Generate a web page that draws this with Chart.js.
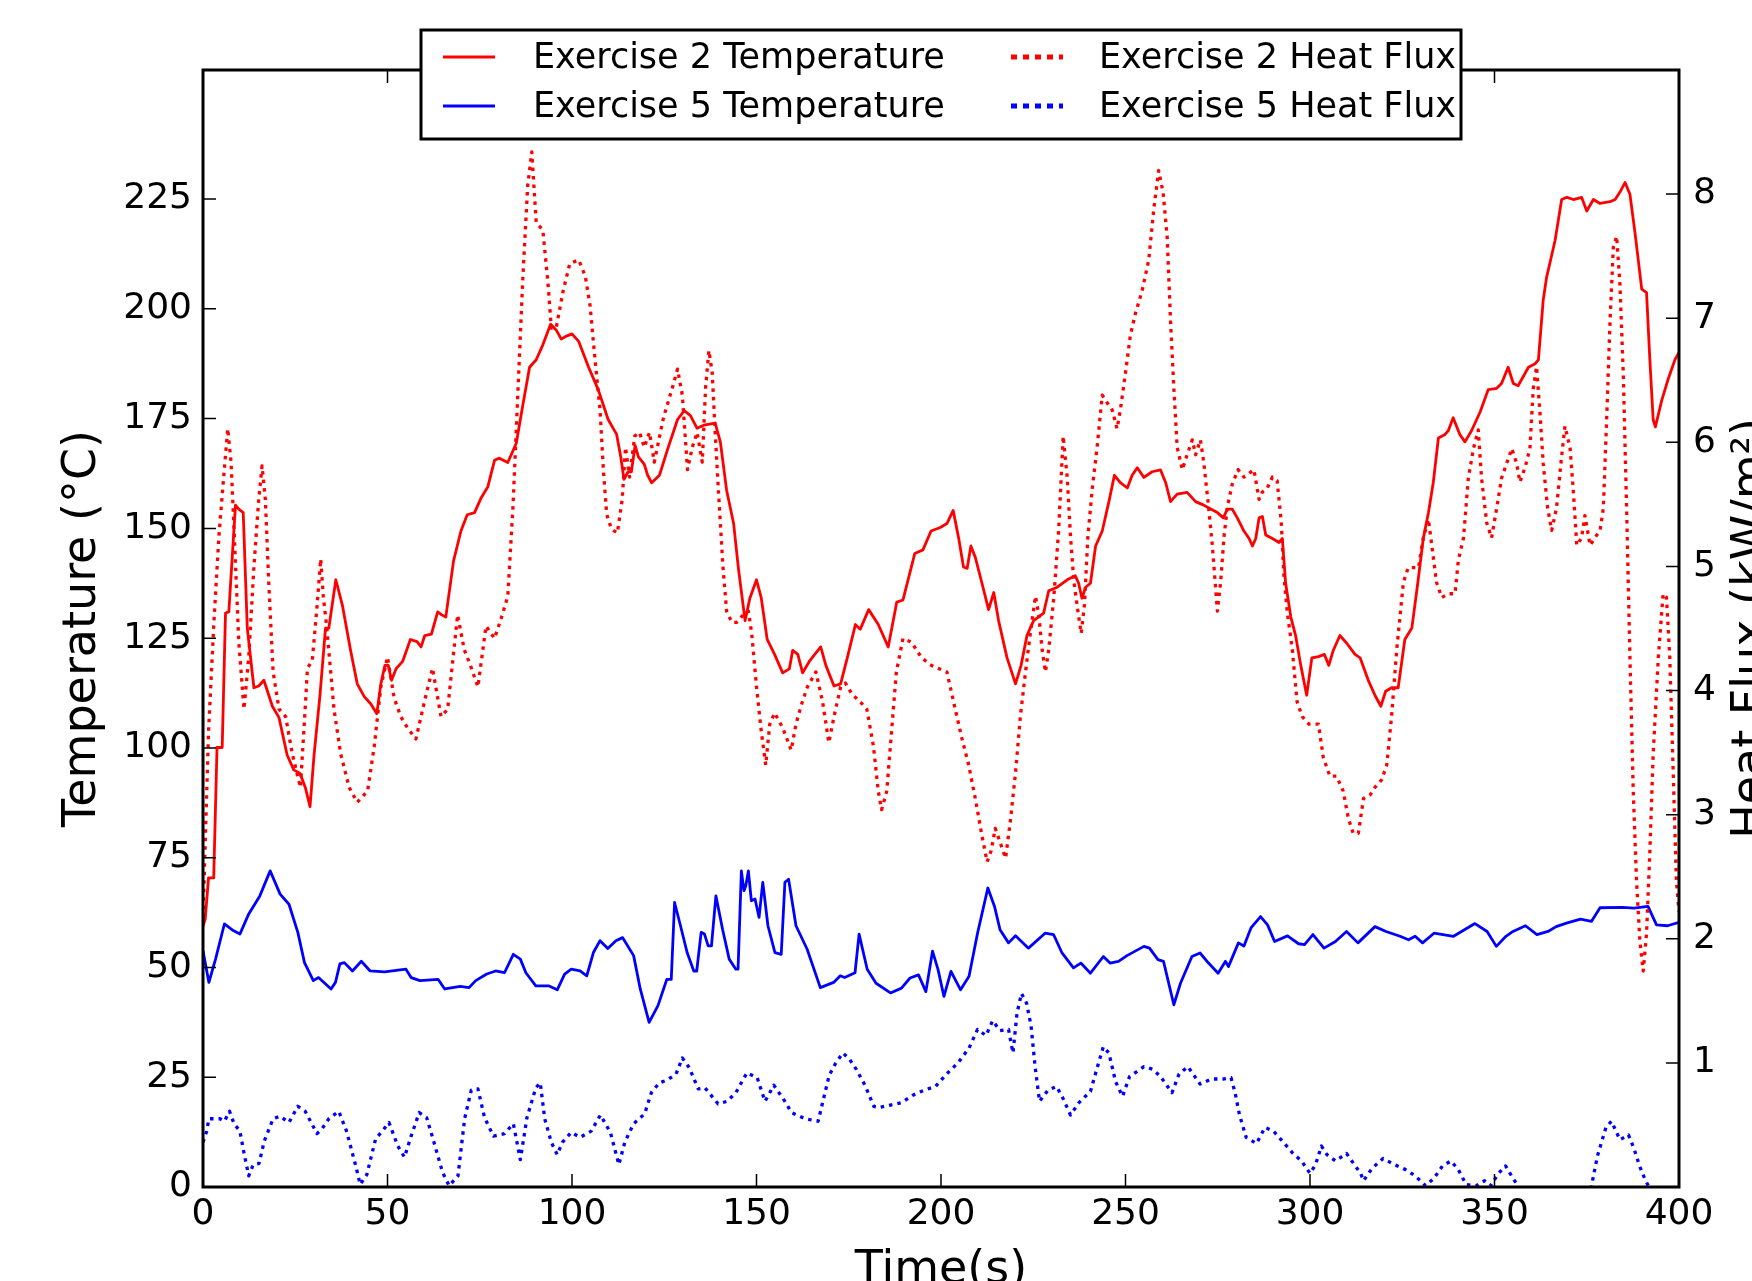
<!DOCTYPE html>
<html>
<head>
<meta charset="utf-8">
<script src="https://cdn.jsdelivr.net/npm/chart.js@4.4.1/dist/chart.umd.min.js"></script>
<style>
html,body{margin:0;padding:0;background:#fff;overflow:hidden}
canvas{display:block}
</style>
</head>
<body>
<canvas id="c" width="1752" height="1281"></canvas>
<script>
// ---------------- tick values ----------------
const timeTicks = [0, 50, 100, 150, 200, 250, 300, 350, 400];
const tempTicks = [0, 25, 50, 75, 100, 125, 150, 175, 200, 225];
const fluxTicks = [1, 2, 3, 4, 5, 6, 7, 8];

// ---------------- series labels ----------------
const seriesLabels = ['Exercise 2 Temperature', 'Exercise 5 Temperature', 'Exercise 2 Heat Flux', 'Exercise 5 Heat Flux'];

// ---------------- series: [time (s), value] ----------------
// Exercise 2 temperature (°C)
const ex2Temp = [[0,59.4],[0.6,61],[1.5,70.4],[2.9,70.4],[3.8,100.1],[5.2,100.1],[6.1,130.7],[7,131],[8.8,155.3],[9.7,154.4],
[10.9,153.6],[12,127.3],[13.8,113.7],[15.1,114.1],[16.5,115.4],[18.8,109.5],[20.6,106.9],[22.8,98.4],[24.6,95],[26.3,94.2],
[27.8,90.8],[29,86.6],[30.1,98.4],[31.7,112],[33.2,127.3],[34.1,127.3],[36,138.3],[37.8,132.4],[40,122.2],[41.8,114.6],
[43.7,111.7],[45.5,110],[47.1,107.8],[48.2,114.6],[49.3,118.8],[50.2,118.8],[51.1,115.4],[52.3,118],[54.1,119.7],[56.2,124.7],
[58,124.2],[59.1,123],[60.1,125.6],[61.9,125.9],[63.6,131],[64.7,130.3],[65.8,129.8],[67.9,142.6],[69.9,149.4],[71.6,153.1],
[73.6,153.6],[75.4,157],[77.2,159.5],[79,165.5],[80.3,166],[82.6,165],[84.9,169.4],[86.7,178.2],[88.5,186.7],[90.3,188.4],
[92.1,191.8],[94.2,196.5],[95.7,195.2],[97.1,193.1],[98.5,193.8],[100,194.3],[101.8,192.6],[104.5,186.7],[107.1,181.6],[109.8,174.8],
[112.1,171.4],[113.2,166.3],[114.1,161.2],[115.2,162.9],[116.1,162.9],[117.1,168.9],[118,166.3],[119.6,164.6],[120.5,162.1],[121.6,160.4],
[123.7,162.1],[125.9,168],[128.6,174.8],[130.4,176.8],[132.1,175.7],[133.9,172.8],[135.7,173.5],[138.8,174],[140.2,169.7],[141.9,158.7],
[143.8,151.1],[145.1,140.9],[146.9,129],[148.2,134.1],[150,138.3],[151.3,134.1],[152.9,124.7],[154.9,121.3],[157.1,117.1],[158.9,118],
[159.8,122.2],[161.2,121.3],[162.5,117.1],[164.3,119.7],[167.4,123],[168.8,118.8],[171,114.1],[172.8,114.6],[174.6,120.5],[176.8,128.1],
[178.1,127],[180.4,131.5],[183,128.1],[185.7,123],[188,133.2],[189.7,133.7],[192.9,144.3],[195.1,145.1],[197.3,149.4],[199.8,150.2],
[201.6,151.1],[203.3,154.1],[204.8,147.7],[206.1,141.2],[207.1,140.9],[208.1,146],[209.3,143.4],[211.1,137.5],[212.9,131.5],[214.3,135.4],
[215.6,129],[217.9,120.5],[220.2,114.6],[221.7,118.8],[223.3,125.6],[225.1,129],[227.8,130.7],[229.2,135.8],[231.5,136.6],[234.2,138.3],
[236.4,139.2],[237.3,137.5],[238.2,134.1],[239.2,136.6],[240.5,137.5],[241.9,146],[243.7,149.4],[245.5,156.1],[247,162.1],[248.6,160.4],
[250.5,159.2],[251.8,162.1],[253.2,163.8],[255,161.6],[257.2,162.9],[259.5,163.3],[260.9,160.4],[262.2,156.1],[264,157.8],[266.7,158.2],
[269,156.1],[271.2,155.3],[273.1,154.4],[274.9,153.6],[276.5,152.4],[277.6,154.4],[278.9,154.4],[280.3,152.4],[282.1,149.4],[283.5,147.7],
[284.4,146],[285.3,147.7],[286.2,152.4],[287.1,152.7],[288,148.5],[289.8,147.7],[291.6,146.8],[292.5,147.7],[293.4,137.5],[294.8,129.8],
[296.1,125.6],[297.5,118.8],[299.1,112],[300.5,120.5],[302.3,120.8],[303.9,121.3],[305.1,118.8],[306.3,122.2],[308.1,125.6],[309.9,123.9],
[312.2,121.3],[313.6,120.5],[315.8,115.4],[317.6,112],[319.2,109.5],[320.5,112.9],[322.1,113.7],[323.9,113.7],[325.7,124.7],[327.6,127.3],
[329.2,137.5],[330.7,147.7],[332.1,153.6],[333.4,160.4],[334.8,170.6],[336.6,171.4],[337.5,172.3],[338.8,175.2],[340.6,171.4],[342,169.7],
[343.8,172.3],[346.1,176.5],[348.3,181.6],[350.6,181.9],[351.9,183],[353.7,186.7],[355.1,183],[356.4,182.5],[359.2,186.7],[361,187.5],
[361.9,188.4],[363.2,202],[364.1,207.1],[366.4,215.5],[368.2,224.9],[369.6,225.4],[371.4,224.9],[373.6,225.4],[375,222.3],[376.8,224.9],
[378.6,224],[381.3,224.4],[382.7,224.9],[384,226.6],[385.4,228.8],[386.7,226.1],[388.1,217.2],[389.9,204.5],[391.2,203.7],[392.1,188.4],
[393,174.8],[393.6,173.1],[395.3,179.1],[397.1,184.1],[398.9,188.4],[400,190.1]];

// Exercise 5 temperature (°C)
const ex5Temp = [[0,53.8],[1.6,46.6],[3.4,51.9],[5.8,59.9],[8.2,58.4],[10,57.6],[12.4,62.2],[15.4,66.3],[18.2,72],[20.9,66.7],
[23.3,64.4],[25.7,58],[27.5,51.1],[29.9,47],[31.3,47.7],[34.7,45.1],[35.9,46.6],[37.1,50.8],[38.3,51.1],[40.5,49.2],
[42.9,51.4],[45.3,49.2],[49.2,49],[55,49.6],[56.4,47.7],[58.8,47],[63.7,47.3],[65.5,45.1],[69.7,45.7],[72.1,45.4],
[73.9,47],[76.9,48.5],[79.3,49.2],[81.7,48.8],[84.1,53],[86,51.9],[87.5,48.8],[90.2,45.8],[93.8,45.8],[96,44.9],
[98,48.5],[99.8,49.6],[102.2,49.2],[104,48.1],[105.8,53.4],[107.6,56.1],[109.7,54.3],[111.9,56.1],[113.7,56.8],[116.7,52.7],
[118.5,45.1],[120.9,37.5],[123.3,41.3],[125.7,47.3],[126.9,47.3],[127.8,64.8],[129.4,59.5],[131.2,53.4],[133,49.2],[133.8,49.2],
[135,58],[135.9,57.6],[136.9,54.9],[137.8,54.9],[139,66.3],[140.8,58.7],[142.6,51.9],[144.4,49.6],[145,49.6],[145.9,72],
[146.6,67.5],[147.1,68.6],[147.8,72],[148.6,65.2],[149.6,65.6],[150.7,61.4],[151.7,69.4],[153.1,59.5],[155,53.4],[156.7,53],
[157.7,69.4],[158.7,70.1],[160.7,59.5],[163.7,54.2],[167.3,45.4],[170.9,46.6],[172.7,48.1],[173.9,47.7],[176.7,48.8],[177.8,57.6],
[180,49.6],[182.4,46.4],[186.3,44.2],[189.3,45.3],[191.6,47.6],[193.9,48.3],[195.9,44.5],[197.7,53.7],[199.2,49.5],[200.8,43.4],
[202.7,49.1],[205.3,44.9],[207.6,48],[209.9,57.8],[212.7,68.1],[214.5,63.9],[216,58.6],[218.3,55.6],[220.2,57.2],[223.7,54.4],
[228.2,57.8],[230.5,57.5],[232.8,53.3],[235.9,49.9],[237.9,51],[240.5,48.7],[244,52.5],[245.8,51],[248.1,51.4],[250.4,52.7],
[255,54.8],[256.5,54.4],[258.8,51.8],[260.3,51.4],[263.1,41.5],[264.9,46.4],[268,52.5],[270.2,53.3],[272.5,51],[275.1,48.7],
[277.1,51.4],[277.9,50.2],[280.6,55.6],[282.1,54.9],[284,59],[286.6,61.6],[288.5,59.7],[290.4,55.9],[293.9,57.2],[296.9,55.4],
[298.5,55.2],[300.8,57.5],[303.8,54.4],[306.9,55.9],[309.9,58.2],[313,55.6],[317.6,59.3],[320.6,58.2],[324.4,57.1],[326.7,56.3],
[328.5,57.1],[330.5,55.6],[333.6,57.8],[338.9,57.1],[344.7,60],[348,58.2],[350.5,54.8],[353.1,57.1],[355,58.2],[358.4,59.5],
[361.5,57.5],[364.5,58.2],[366.7,59.3],[369.5,60.1],[373.3,61],[376.3,60.5],[378.6,63.6],[384.7,63.7],[387.8,63.5],[391.6,63.9],
[393.9,59.7],[396.9,59.5],[400,60.3]];

// Exercise 2 heat flux (kW/m²)
const ex2Flux = [[0,2.17],[0.6,2.77],[1.5,3.67],[2.9,4.52],[4.3,5.24],[5.6,5.72],[6.7,6.11],[7.6,5.84],[8.5,5.24],[9.7,4.39],
[11.1,3.85],[12.4,4.27],[13.8,5.0],[15.1,5.54],[16,5.81],[16.9,5.54],[17.8,4.88],[19,4.15],[20.6,3.85],[22.4,3.79],
[24.2,3.49],[26.4,3.22],[27.8,3.91],[28.3,4.18],[29.6,4.24],[30.8,4.64],[31.9,5.06],[32.6,4.76],[33.5,4.52],[34.6,4.15],
[35.5,3.85],[37.3,3.49],[39.6,3.22],[41.8,3.1],[44.6,3.19],[46.4,3.55],[48.2,4.03],[50,4.27],[51.8,3.94],[53.6,3.79],
[55.4,3.7],[57.7,3.61],[60,3.91],[62.2,4.18],[64.5,3.79],[66.3,3.85],[69,4.61],[70.8,4.33],[72.5,4.2],[74.5,4.03],
[76.7,4.52],[79,4.42],[80.8,4.58],[82.6,4.76],[84,5.48],[85.3,6.38],[86.7,7.34],[88,8.07],[89.1,8.34],[90.3,7.77],
[92.1,7.71],[93.5,7.28],[94.4,6.92],[95.7,6.92],[97.6,7.22],[99.4,7.44],[101.8,7.47],[103.6,7.34],[104.9,7.1],[106.2,6.68],
[107.6,6.26],[108.5,5.78],[109.4,5.42],[110.7,5.3],[112.3,5.27],[113.6,5.54],[114.5,5.96],[115.6,5.72],[117,6.05],[118.3,6.08],
[119.6,5.96],[121,6.08],[122.3,5.84],[124.8,6.2],[127.2,6.44],[128.6,6.59],[129.9,6.38],[131.3,5.78],[132.6,5.96],[133.9,6.08],
[135.3,5.84],[136.2,6.44],[137.1,6.74],[138,6.56],[138.8,6.08],[139.7,5.6],[140.9,5.0],[141.9,4.64],[143.3,4.55],[144.6,4.55],
[146.4,4.61],[147.8,4.64],[148.7,4.46],[150,4.03],[151.3,3.67],[152.5,3.4],[153.6,3.73],[154.9,3.82],[157.1,3.7],[159.4,3.52],
[160.7,3.73],[162.1,3.88],[163.8,4.03],[166.1,4.15],[167.9,3.91],[169.6,3.58],[171,3.79],[172.8,4.03],[174.1,4.06],[175.9,3.97],
[178.1,3.91],[179.9,3.85],[181.7,3.55],[183,3.19],[183.9,3.04],[185.3,3.19],[186.6,3.67],[187.9,4.15],[189.7,4.42],[192,4.39],
[194.6,4.27],[196.9,4.21],[199.1,4.18],[201.6,4.15],[203.4,3.91],[205.7,3.61],[207.5,3.4],[209.3,3.13],[211.1,2.83],[212.5,2.62],
[213.6,2.71],[214.7,2.89],[216.1,2.77],[217.5,2.65],[218.8,2.95],[220.2,3.34],[221.5,3.79],[222.9,4.15],[224.2,4.46],[225.6,4.76],
[226.5,4.61],[227.4,4.33],[228.3,4.15],[229.2,4.33],[230.6,4.76],[231.9,5.3],[233.1,6.05],[234.2,5.72],[235.1,5.24],[236,4.88],
[237.1,4.64],[238,4.46],[238.9,4.7],[239.8,5.24],[241,5.63],[242.3,5.96],[243.7,6.38],[245,6.32],[246.4,6.26],[247.7,6.11],
[248.6,6.26],[250,6.56],[251.3,6.86],[252.7,7.04],[254.5,7.22],[256.3,7.47],[257.7,7.89],[259,8.19],[260.2,8.01],[261.3,7.65],
[262.2,6.98],[263.1,6.44],[264,5.96],[265.4,5.78],[266.7,5.9],[268.1,6.02],[269,5.9],[270.3,6.02],[271.2,5.84],[272.3,5.54],
[273.5,5.18],[274.9,4.64],[275.8,4.88],[276.7,5.24],[277.6,5.48],[278.9,5.66],[280.5,5.78],[282.1,5.72],[283.5,5.75],[284.8,5.78],
[286.2,5.54],[287.1,5.6],[288.4,5.63],[289.8,5.72],[291.1,5.69],[292.2,5.36],[292.9,4.94],[293.8,4.64],[295.2,4.33],[296.5,3.91],
[297.9,3.79],[299.7,3.73],[302.3,3.73],[303.6,3.46],[305.4,3.31],[307.2,3.31],[309,3.19],[310.4,2.97],[311.7,2.85],[313.1,2.85],
[314.5,3.13],[316.3,3.16],[317.6,3.22],[319.4,3.28],[320.8,3.4],[322.1,3.79],[323.5,4.33],[325.3,4.87],[326.6,4.99],[328,4.99],
[329.4,4.99],[330.7,5.23],[332.1,5.38],[333,5.17],[334.3,4.87],[335.7,4.75],[337.5,4.78],[339.3,4.78],[340.2,5.05],[341.6,5.23],
[342.9,5.71],[344.3,5.95],[345.6,6.1],[346.5,5.71],[347.9,5.35],[349.2,5.23],[350.6,5.47],[351.9,5.71],[353.3,5.83],[354.7,5.95],
[356,5.83],[356.9,5.68],[358.3,5.8],[359.6,5.95],[360.5,6.43],[361.4,6.61],[362.3,6.25],[363.2,5.83],[364.4,5.47],[365.5,5.29],
[366.8,5.47],[368.2,5.89],[369.1,6.13],[370.5,5.95],[371.4,5.59],[372.3,5.17],[373.6,5.23],[374.5,5.41],[375.9,5.17],[377.2,5.23],
[378.6,5.29],[379.5,5.47],[380.4,6.19],[381.3,6.97],[382.2,7.57],[383.1,7.66],[384,7.27],[384.9,6.55],[385.8,5.47],[386.7,4.27],
[387.6,3.19],[388.5,2.46],[389.4,1.98],[390.3,1.74],[391.2,2.04],[392.1,2.7],[393,3.49],[394.4,4.27],[395.7,4.78],[396.6,4.75],
[397.5,4.27],[398.4,3.37],[399.3,2.46],[400,2.22]];

// Exercise 5 heat flux (kW/m²); null = stretch where the trace sits below the axis
const ex5Flux = [[0,0.36],[1,0.45],[1.6,0.55],[4.6,0.55],[5.8,0.53],[7.2,0.61],[8.4,0.51],[10,0.45],[11.2,0.26],[12.4,0.09],
[13.6,0.18],[15.2,0.19],[16.6,0.37],[19,0.55],[20.9,0.57],[23.3,0.52],[25.7,0.65],[27.7,0.61],[29.3,0.52],[30.9,0.43],
[32.3,0.47],[34.1,0.55],[36.8,0.61],[38.9,0.45],[41.4,0.17],[42.6,0.02],[44.4,0.1],[46.8,0.39],[48.6,0.45],[50.4,0.52],
[52.8,0.33],[54.6,0.24],[56.4,0.41],[58.6,0.6],[60.6,0.56],[62.4,0.38],[64.9,0.12],[66.7,0.01],[69.1,0.09],[70.9,0.55],
[72.7,0.78],[74.5,0.79],[76.3,0.56],[78.7,0.41],[81.7,0.43],[84.1,0.51],[86,0.22],[87.8,0.56],[90.2,0.8],[91.4,0.84],
[92.6,0.55],[94.4,0.36],[96,0.26],[97.4,0.36],[99.8,0.44],[102.2,0.4],[105.2,0.45],[107.7,0.58],[110.4,0.44],[112.7,0.18],
[114.3,0.36],[116.7,0.51],[119.7,0.59],[121.5,0.76],[123.7,0.84],[125.7,0.86],[128.2,0.91],[129.9,1.04],[131.8,0.96],[134.2,0.79],
[136,0.8],[139.6,0.67],[142,0.69],[144.4,0.76],[147.4,0.92],[150.2,0.88],[152.3,0.69],[154.7,0.82],[157.7,0.69],[159.5,0.6],
[163.1,0.55],[166.7,0.53],[169.7,0.9],[171.5,1.0],[173.4,1.08],[175.2,1.03],[177,0.95],[179.4,0.82],[181.8,0.65],[183.2,0.64],
[186.3,0.66],[189.3,0.68],[192.4,0.74],[195.4,0.78],[198.5,0.81],[201.5,0.91],[204.6,1.0],[207.6,1.12],[209.9,1.27],[212.2,1.22],
[214,1.34],[216,1.26],[218.3,1.27],[219.5,1.08],[220.6,1.4],[221.8,1.56],[223.2,1.48],[224.4,1.3],[225.5,0.97],[226.7,0.69],
[229,0.78],[231.3,0.81],[232.8,0.73],[235.1,0.58],[237.4,0.68],[240.5,0.77],[242.7,1.0],[244,1.13],[245.5,1.08],[247.3,0.85],
[249.2,0.73],[251.1,0.89],[255,0.97],[257.3,0.95],[259.5,0.89],[262.6,0.76],[264.5,0.91],[266.9,0.97],[270.2,0.83],[273.3,0.87],
[276.3,0.87],[278.6,0.88],[279.7,0.76],[280.9,0.58],[282.7,0.4],[285.5,0.35],[287.8,0.48],[290.1,0.45],[293.1,0.35],[295.4,0.27],
[297.7,0.21],[300,0.11],[301.5,0.18],[303.1,0.33],[304.6,0.26],[306.9,0.21],[309.9,0.27],[311.8,0.19],[313.7,0.11],[314.5,0.05],
[316.8,0.15],[319.8,0.23],[322.9,0.18],[325.9,0.14],[328.5,0.09],[331.3,0.01],[333.6,0.07],[335.9,0.17],[338.2,0.21],[340.2,0.14],
[342.3,0.02],[345,0.01],[347.3,0.05],[348.9,0.01],[351.1,0.11],[353,0.17],[355,0.07],[357.3,-0.03],[358.5,-0.15],[366,null],
[375.2,-0.15],[376.3,0.01],[377.9,0.25],[380.2,0.48],[381.7,0.53],[384,0.38],[386.3,0.42],[387.8,0.31],[389.3,0.17],[390.8,0.06],
[392.4,-0.03],[393.5,-0.15]];

// ---------------- rendering ----------------
const FONT = "'DejaVu Sans', 'Liberation Sans', sans-serif";
const toXY = arr => arr.map(p => ({x: p[0], y: p[1]}));

const frameAndTitles = {
  id: 'frameAndTitles',
  afterDatasetsDraw(chart) {
    const {ctx, chartArea: a, scales} = chart;
    const L = 13;
    ctx.save();
    ctx.strokeStyle = '#000';
    ctx.lineWidth = 1.5;
    ctx.beginPath();
    scales.x.ticks.forEach(t => {
      const px = scales.x.getPixelForValue(t.value);
      ctx.moveTo(px, a.bottom); ctx.lineTo(px, a.bottom - L);
      ctx.moveTo(px, a.top); ctx.lineTo(px, a.top + L);
    });
    scales.yT.ticks.forEach(t => {
      const py = scales.yT.getPixelForValue(t.value);
      ctx.moveTo(a.left, py); ctx.lineTo(a.left + L, py);
    });
    scales.yF.ticks.forEach(t => {
      const py = scales.yF.getPixelForValue(t.value);
      ctx.moveTo(a.right, py); ctx.lineTo(a.right - L, py);
    });
    ctx.stroke();
    ctx.lineWidth = 3;
    ctx.strokeRect(a.left, a.top, a.right - a.left, a.bottom - a.top);

    // axis titles
    ctx.fillStyle = '#000';
    ctx.font = '46px ' + FONT;
    ctx.textAlign = 'center';
    ctx.textBaseline = 'alphabetic';
    const cy = (a.top + a.bottom) / 2;
    ctx.save(); ctx.translate(a.left - 108, cy); ctx.rotate(-Math.PI / 2);
    ctx.fillText('Temperature (°C)', 0, 0); ctx.restore();
    ctx.save(); ctx.translate(a.right + 85, cy); ctx.rotate(-Math.PI / 2);
    ctx.fillText('Heat Flux (kW/m²)', 0, 0); ctx.restore();
    ctx.fillText('Time(s)', (a.left + a.right) / 2, a.bottom + 96);
    ctx.restore();
  },
  afterDraw(chart) {
    const {ctx, chartArea: a} = chart;
    const ds = chart.data.datasets;
    const box = {x: a.left + 218, y: a.top - 40, w: 1040, h: 109};
    ctx.save();
    ctx.fillStyle = '#fff';
    ctx.fillRect(box.x, box.y, box.w, box.h);
    ctx.strokeStyle = '#000';
    ctx.lineWidth = 3;
    ctx.strokeRect(box.x, box.y, box.w, box.h);
    const rows = [box.y + 27, box.y + 76];
    const cols = [{s: box.x + 22, t: box.x + 112}, {s: box.x + 590, t: box.x + 678}];
    const order = [[0, 2], [1, 3]]; // rows x cols → dataset index
    ctx.font = '35px ' + FONT;
    ctx.textAlign = 'left';
    ctx.textBaseline = 'middle';
    order.forEach((row, r) => row.forEach((di, c) => {
      const d = ds[di];
      const dotted = !!d.borderDash;
      ctx.beginPath();
      ctx.strokeStyle = d.borderColor;
      ctx.lineWidth = dotted ? 5 : d.borderWidth;
      ctx.setLineDash(dotted ? [6, 6] : []);
      ctx.moveTo(cols[c].s, rows[r]);
      ctx.lineTo(cols[c].s + 52, rows[r]);
      ctx.stroke();
      ctx.setLineDash([]);
      ctx.fillStyle = '#000';
      ctx.fillText(d.label, cols[c].t, rows[r] + 2);
    }));
    ctx.restore();
  }
};

const tickFont = {family: FONT, size: 36};

new Chart(document.getElementById('c'), {
  type: 'line',
  data: {
    datasets: [
      {label: seriesLabels[0], data: toXY(ex2Temp), yAxisID: 'yT', borderColor: '#ff0000', borderWidth: 2.8, order: 2},
      {label: seriesLabels[1], data: toXY(ex5Temp), yAxisID: 'yT', borderColor: '#0000ff', borderWidth: 2.8, order: 2},
      {label: seriesLabels[2], data: toXY(ex2Flux), yAxisID: 'yF', borderColor: '#ff0000', borderWidth: 3.3, borderDash: [3.5, 5], order: 1},
      {label: seriesLabels[3], data: toXY(ex5Flux), yAxisID: 'yF', borderColor: '#0000ff', borderWidth: 3.3, borderDash: [3.5, 5], order: 1}
    ]
  },
  options: {
    responsive: false,
    animation: false,
    devicePixelRatio: 1,
    layout: {padding: {top: 70, left: 0, right: 0, bottom: 0}},
    elements: {
      point: {radius: 0, hoverRadius: 0},
      line: {tension: 0, fill: false, borderJoinStyle: 'round', borderCapStyle: 'butt'}
    },
    plugins: {legend: {display: false}, tooltip: {enabled: false}},
    events: [],
    scales: {
      x: {
        type: 'linear', position: 'bottom', min: 0, max: 400,
        grid: {display: false, drawTicks: false}, border: {display: false},
        ticks: {font: tickFont, color: '#000', padding: 6, autoSkip: false, maxRotation: 0, callback: v => String(v)},
        afterBuildTicks: s => { s.ticks = timeTicks.map(v => ({value: v})); },
        afterFit: s => { s.height = 94; }
      },
      yT: {
        type: 'linear', position: 'left', min: 0, max: 254.4,
        grid: {display: false, drawTicks: false}, border: {display: false},
        ticks: {font: tickFont, color: '#000', padding: 11, callback: v => String(v)},
        afterBuildTicks: s => { s.ticks = tempTicks.map(v => ({value: v})); },
        afterFit: s => { s.width = 203; }
      },
      yF: {
        type: 'linear', position: 'right', min: 0, max: 9,
        grid: {display: false, drawTicks: false}, border: {display: false},
        ticks: {font: tickFont, color: '#000', padding: 14, callback: v => String(v)},
        afterBuildTicks: s => { s.ticks = fluxTicks.map(v => ({value: v})); },
        afterFit: s => { s.width = 73; }
      }
    }
  },
  plugins: [frameAndTitles]
});
</script>
</body>
</html>
